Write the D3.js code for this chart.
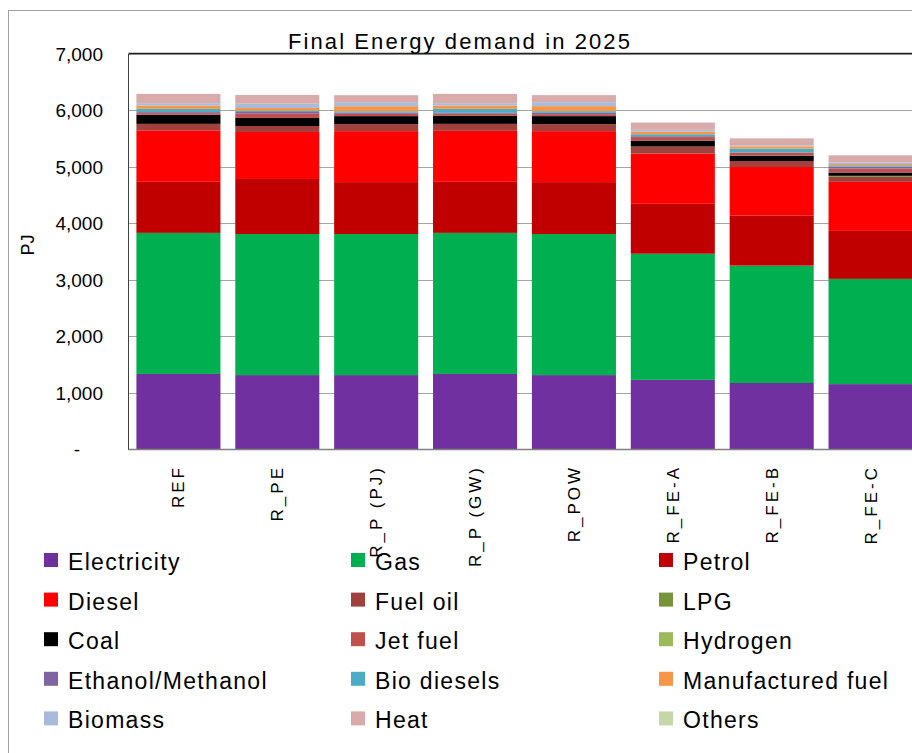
<!DOCTYPE html>
<html>
<head>
<meta charset="utf-8">
<script src="https://cdn.jsdelivr.net/npm/d3@7"></script>
<style>
  body { margin: 0; background: #fff; }
  #chart svg { display: block; }
</style>
</head>
<body>
<div id="chart"></div>
<script>
//scenario names on the x axis
var scenarios = ["REF", "R_PE", "R_P (PJ)", "R_P (GW)", "R_POW", "R_FE-A", "R_FE-B", "R_FE-C"];

//fuel names, bottom of the stack first
var fuels = ["Electricity", "Gas", "Petrol", "Diesel", "Fuel oil", "LPG", "Coal", "Jet fuel",
  "Hydrogen", "Ethanol/Methanol", "Bio diesels", "Manufactured fuel", "Biomass", "Heat", "Others"];

//values in PJ, one per scenario
var electricity = [1330, 1310, 1310, 1330, 1310, 1225, 1170, 1150];
var gas = [2500, 2500, 2500, 2500, 2500, 2235, 2080, 1865];
var petrol = [905, 975, 920, 905, 920, 885, 885, 850];
var diesel = [912, 833, 903, 903, 903, 891, 863, 869];
var fuelOil = [115, 106, 124, 124, 124, 124, 106, 89];
var lpg = [0, 0, 0, 0, 0, 0, 0, 18];
var coal = [160, 142, 142, 147, 142, 106, 94, 59];
var jetFuel = [30, 76, 41, 33, 35, 62, 48, 70];
var hydrogen = [0, 0, 0, 0, 0, 0, 0, 0];
var ethanol = [18, 30, 23, 15, 23, 15, 10, 35];
var bioDiesels = [58, 23, 23, 71, 30, 35, 66, 23];
var manufactured = [58, 48, 89, 58, 89, 48, 41, 23];
var biomass = [42, 76, 71, 42, 71, 30, 18, 25];
var heat = [165, 154, 124, 165, 124, 129, 124, 129];
var others = [0, 0, 0, 0, 0, 0, 0, 0];

var series = [electricity, gas, petrol, diesel, fuelOil, lpg, coal, jetFuel,
  hydrogen, ethanol, bioDiesels, manufactured, biomass, heat, others];

var colors = ["#7030A0", "#00B050", "#C00000", "#FF0000", "#A0413E", "#77933C", "#000000", "#C0504D",
  "#9BBB59", "#8064A2", "#4BACC6", "#F79646", "#A9BBDA", "#D9AAAA", "#C4D7A8"];

var yTicks = [0, 1000, 2000, 3000, 4000, 5000, 6000, 7000];

//constructor
function EnergyChart(_parent) {
  var vis = this;
  vis.parent = _parent;
  vis.init();
}

//set up svg, scales and data table
EnergyChart.prototype.init = function() {
  var vis = this;
  vis.width = 912;
  vis.height = 753;
  vis.plot = { left: 129, right: 920, top: 54, bottom: 449 };

  vis.svg = d3.select(vis.parent).append("svg")
    .attr("width", vis.width)
    .attr("height", vis.height)
    .style("font-family", "'Liberation Sans', Arial, sans-serif");

  //one row per scenario, one column per fuel
  vis.table = scenarios.map(function(s, i) {
    var row = { scenario: s };
    fuels.forEach(function(f, j) { row[f] = series[j][i]; });
    return row;
  });

  vis.x = d3.scaleBand()
    .domain(scenarios)
    .range([vis.plot.left, vis.plot.right])
    .paddingInner(0.15)
    .paddingOuter(0.075);

  vis.y = d3.scaleLinear()
    .domain([0, 7000])
    .range([vis.plot.bottom, vis.plot.top]);

  vis.color = d3.scaleOrdinal().domain(fuels).range(colors);

  vis.update();
};

EnergyChart.prototype.update = function() {
  var vis = this;

  //outer chart border
  vis.svg.append("rect")
    .attr("x", 8.5).attr("y", 10.5)
    .attr("width", 1000).attr("height", 800)
    .attr("fill", "none").attr("stroke", "#a0a0a0");

  //gridlines
  vis.svg.append("g")
    .selectAll("line")
    .data(yTicks.slice(1))
    .enter().append("line")
    .attr("x1", vis.plot.left).attr("x2", vis.plot.right)
    .attr("y1", function(d) { return Math.round(vis.y(d)) + 0.5; })
    .attr("y2", function(d) { return Math.round(vis.y(d)) + 0.5; })
    .attr("stroke", "#a6a6a6");

  //stacked bars
  var stacked = d3.stack().keys(fuels)(vis.table);
  vis.svg.append("g")
    .selectAll("g")
    .data(stacked)
    .enter().append("g")
    .attr("fill", function(d) { return vis.color(d.key); })
    .selectAll("rect")
    .data(function(d) { return d; })
    .enter().append("rect")
    .attr("x", function(d) { return vis.x(d.data.scenario); })
    .attr("width", vis.x.bandwidth())
    .attr("y", function(d) { return vis.y(d[1]); })
    .attr("height", function(d) { return vis.y(d[0]) - vis.y(d[1]); });

  //plot frame
  vis.svg.append("line")
    .attr("x1", vis.plot.left - 0.5).attr("x2", vis.plot.left - 0.5)
    .attr("y1", vis.plot.top).attr("y2", vis.plot.bottom + 1)
    .attr("stroke", "#404040");
  vis.svg.append("line")
    .attr("x1", vis.plot.left - 0.5).attr("x2", vis.plot.right)
    .attr("y1", vis.plot.top - 0.5).attr("y2", vis.plot.top - 0.5)
    .attr("stroke", "#202020").attr("stroke-width", 1.5);
  vis.svg.append("line")
    .attr("x1", vis.plot.left - 0.5).attr("x2", vis.plot.right)
    .attr("y1", vis.plot.bottom + 0.5).attr("y2", vis.plot.bottom + 0.5)
    .attr("stroke", "#808080").attr("stroke-width", 1.5);

  //y axis tick labels
  vis.svg.append("g")
    .selectAll("text")
    .data(yTicks)
    .enter().append("text")
    .text(function(d) { return d === 0 ? "-" : d3.format(",")(d); })
    .attr("x", function(d) { return d === 0 ? 80 : 103; })
    .attr("y", function(d) { return vis.y(d) + 7; })
    .style("text-anchor", "end")
    .style("font-size", "19px")
    .style("fill", "#000");

  //y axis title
  vis.svg.append("text")
    .text("PJ")
    .attr("transform", "translate(34,245) rotate(-90)")
    .style("text-anchor", "middle")
    .style("font-size", "18px");

  //x axis labels, rotated
  vis.svg.append("g")
    .selectAll("text")
    .data(scenarios)
    .enter().append("text")
    .text(function(d) { return d; })
    .attr("transform", function(d) {
      return "translate(" + (vis.x(d) + vis.x.bandwidth() / 2 + 6) + ",465) rotate(-90)";
    })
    .style("text-anchor", "end")
    .style("font-size", "17px")
    .style("letter-spacing", "3px");

  //title
  vis.svg.append("text")
    .text("Final Energy demand in 2025")
    .attr("x", 460)
    .attr("y", 49)
    .style("text-anchor", "middle")
    .style("font-size", "22px")
    .style("letter-spacing", "2.1px");

  //legend, three columns
  var colX = [44, 351, 659];
  var legend = vis.svg.append("g")
    .selectAll("g")
    .data(fuels)
    .enter().append("g")
    .attr("transform", function(d, i) {
      return "translate(" + colX[i % 3] + "," + (570 + Math.floor(i / 3) * 39.6) + ")";
    });
  legend.append("rect")
    .attr("x", 0).attr("y", -17)
    .attr("width", 14).attr("height", 14)
    .attr("fill", function(d) { return vis.color(d); });
  legend.append("text")
    .text(function(d) { return d; })
    .attr("x", 24)
    .attr("y", 0)
    .style("font-size", "23px")
    .style("letter-spacing", "1.3px");
};

var chart = new EnergyChart("#chart");
</script>
</body>
</html>
